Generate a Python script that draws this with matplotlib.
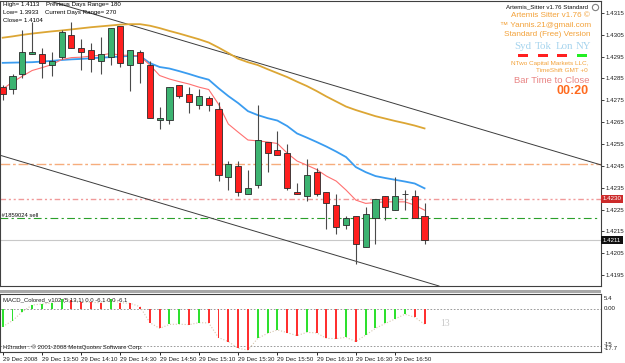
import matplotlib
matplotlib.use('Agg')
import matplotlib.pyplot as plt
from matplotlib.lines import Line2D
from matplotlib.patches import Rectangle
import matplotlib.transforms as mtransforms

plt.rcParams['font.family'] = ['Liberation Sans', 'DejaVu Sans']

# ---------------- data ----------------
opens = [1.4281, 1.4280, 1.4287, 1.4296, 1.4296, 1.4291, 1.4295, 1.4305, 1.4299, 1.4298,
         1.4293, 1.4295, 1.4309, 1.4291, 1.4297, 1.4291, 1.4266, 1.4266, 1.4282, 1.4278,
         1.4273, 1.4276, 1.4271, 1.4240, 1.4245, 1.4232, 1.4236, 1.4256, 1.4252, 1.4251,
         1.4233, 1.4231, 1.4242, 1.4233, 1.4227, 1.4218, 1.4222, 1.4208, 1.4221, 1.4231,
         1.4225, 1.4232, 1.4231, 1.4222]
highs = [1.4282, 1.4287, 1.4307, 1.4311, 1.4299, 1.4297, 1.4307, 1.4311, 1.4303, 1.4301,
         1.4304, 1.4308, 1.4309, 1.4298, 1.4298, 1.4293, 1.4272, 1.4281, 1.4282, 1.4281,
         1.4280, 1.4277, 1.4274, 1.4247, 1.4247, 1.4243, 1.4273, 1.4256, 1.4261, 1.4255,
         1.4237, 1.4248, 1.4244, 1.4233, 1.4232, 1.4222, 1.4222, 1.4226, 1.4230, 1.4231,
         1.4240, 1.4234, 1.4234, 1.4228]
lows = [1.4275, 1.4278, 1.4285, 1.4296, 1.4285, 1.4286, 1.4294, 1.4299, 1.4289, 1.4288,
        1.4287, 1.4291, 1.4290, 1.4279, 1.4283, 1.4267, 1.4262, 1.4264, 1.4276, 1.4269,
        1.4271, 1.4270, 1.4238, 1.4234, 1.4231, 1.4232, 1.4235, 1.4242, 1.4250, 1.4234,
        1.4232, 1.4229, 1.4231, 1.4216, 1.4214, 1.4216, 1.4200, 1.4208, 1.4209, 1.4220,
        1.4225, 1.4225, 1.4221, 1.4209]
closes = [1.4278, 1.4286, 1.4297, 1.4297, 1.4292, 1.4293, 1.4306, 1.4299, 1.4297, 1.4294,
          1.4296, 1.4308, 1.4292, 1.4298, 1.4292, 1.4267, 1.4267, 1.4281, 1.4277, 1.4274,
          1.4277, 1.4273, 1.4241, 1.4246, 1.4233, 1.4235, 1.4257, 1.4251, 1.4250, 1.4235,
          1.4232, 1.4241, 1.4232, 1.4228, 1.4217, 1.4221, 1.4209, 1.4223, 1.4230, 1.4226,
          1.4231, 1.4232, 1.4221, 1.4211]

ma_fast = [1.42801, 1.42833, 1.42860, 1.42886, 1.42899, 1.42913, 1.42936, 1.42945, 1.42947, 1.42952,
           1.42956, 1.42964, 1.42956, 1.42956, 1.42952, 1.42911, 1.42863, 1.42847, 1.42835, 1.42824,
           1.42810, 1.42799, 1.42732, 1.42641, 1.42604, 1.42568, 1.42564, 1.42559, 1.42552, 1.42508,
           1.42472, 1.42453, 1.42433, 1.42403, 1.42380, 1.42339, 1.42293, 1.42278, 1.42282, 1.42285,
           1.42285, 1.42285, 1.42270, 1.42247]
ma_mid = [1.42921, 1.42922, 1.42923, 1.42924, 1.42927, 1.42930, 1.42934, 1.42937, 1.42939, 1.42942,
          1.42945, 1.42947, 1.42950, 1.42953, 1.42952, 1.42920, 1.42902, 1.42895, 1.42883, 1.42870,
          1.42856, 1.42844, 1.42805, 1.42769, 1.42737, 1.42700, 1.42682, 1.42668, 1.42657, 1.42632,
          1.42598, 1.42579, 1.42559, 1.42538, 1.42515, 1.42490, 1.42444, 1.42421, 1.42403, 1.42394,
          1.42386, 1.42378, 1.42369, 1.42347]
ma_slow = [1.43036, 1.43042, 1.43049, 1.43055, 1.43060, 1.43065, 1.43069, 1.43074, 1.43079, 1.43084,
           1.43088, 1.43092, 1.43096, 1.43098, 1.43098, 1.43091, 1.43080, 1.43067, 1.43055, 1.43042,
           1.43029, 1.43014, 1.42991, 1.42966, 1.42940, 1.42924, 1.42911, 1.42892, 1.42874, 1.42856,
           1.42835, 1.42815, 1.42792, 1.42767, 1.42744, 1.42721, 1.42705, 1.42691, 1.42677, 1.42666,
           1.42655, 1.42645, 1.42634, 1.42621]

macd = [-7.1, -4.7, -1.1, 1.6, 2.0, 2.4, 3.9, 3.6, 2.9, 2.7,
        2.5, 3.9, 2.5, 2.3, 0.9, -5.5, -7.8, -6.2, -6.1, -6.3,
        -5.5, -5.6, -11.5, -13.1, -15.8, -16.5, -11.8, -9.8, -8.4, -9.5,
        -10.7, -9.4, -9.6, -11.8, -11.9, -11.4, -13.1, -10.5, -7.8, -5.8,
        -4.0, -2.1, -3.3, -6.1]
macd_up = [1, 1, 1, 1, 1, 1, 1, 0, 0, 0,
           0, 1, 0, 0, 0, 0, 0, 1, 1, 0,
           1, 0, 0, 0, 0, 0, 1, 1, 1, 0,
           0, 1, 0, 0, 0, 1, 0, 1, 1, 1,
           1, 1, 0, 0]

upper_trend = [(14.0, 1.43081), (61.06, 1.42453)]
lower_trend = [(-0.1, 1.42496), (44.4, 1.41901)]
level_orange = 1.4246
level_red = 1.4230
order_price = 1.4221
bid_price = 1.4211

price_ticks = [1.4195, 1.4205, 1.4215, 1.4225, 1.4235, 1.4245, 1.4255,
               1.4265, 1.4275, 1.4285, 1.4295, 1.4305, 1.4315]
time_ticks = [0, 4, 8, 12, 16, 20, 24, 28, 32, 36, 40]
time_labels = ["29 Dec 2008", "29 Dec 13:50", "29 Dec 14:10", "29 Dec 14:30",
               "29 Dec 14:50", "29 Dec 15:10", "29 Dec 15:30", "29 Dec 15:50",
               "29 Dec 16:10", "29 Dec 16:30", "29 Dec 16:50"]

# ---------------- figure ----------------
W, H = 625, 363
fig = plt.figure(figsize=(W / 100, H / 100), dpi=100, facecolor='white')


def fx(px):
    return px / W


def fy(py):
    return 1 - py / H


ax = fig.add_axes([0, fy(286), fx(601), (286 - 1) / H])
ax2 = fig.add_axes([0, fy(351.5), fx(601), (351.5 - 294) / H])

for a in (ax, ax2):
    a.set_facecolor('white')
    for s in a.spines.values():
        s.set_color('#404040')
        s.set_linewidth(0.8)

x = list(range(len(opens)))
ax.set_xlim(-0.275, 60.99)
ax.set_ylim(1.4190, 1.43204)
ax2.set_xlim(-0.275, 60.99)
ax2.set_ylim(-17.09, 6.03)

# levels
ax.axhline(level_orange, color='#f6ad7c', lw=1.0, ls=(0, (7, 2, 2, 2)), zorder=1)
ax.axhline(level_red, color='#f09a9a', lw=1.0, ls=(0, (4, 2, 1.5, 2, 1.5, 2)), zorder=1)
ax.axhline(order_price, xmax=597 / 601, color='#2aa02a', lw=0.8, ls=(0, (7, 3, 2, 3)), zorder=1)
ax.axhline(bid_price, color='#c8c8c8', lw=0.8, zorder=1)

# trend lines
ax.axline(upper_trend[0], upper_trend[1], color='#3c3c3c', lw=0.7, zorder=2)
ax.axline(lower_trend[0], lower_trend[1], color='#3c3c3c', lw=0.7, zorder=2)

# moving averages
ax.plot(x, ma_slow, color='#dca634', lw=1.3, zorder=2)
ax.plot(x, ma_mid, color='#3a9cf0', lw=1.3, zorder=2)
ax.plot(x, ma_fast, color='#ff7070', lw=0.8, zorder=2)

# candles
bodies_bottom = [min(o, c) for o, c in zip(opens, closes)]
bodies_h = [abs(c - o) for o, c in zip(opens, closes)]
body_colors = ['#3cb371' if c > o else ('#ff1e1e' if c < o else '#606060')
               for o, c in zip(opens, closes)]
ax.vlines(x, lows, highs, color='#4a4a4a', lw=0.8, zorder=3)
ax.bar(x, bodies_h, bottom=bodies_bottom, width=0.62, color=body_colors,
       edgecolor='#2a2a2a', linewidth=0.6, zorder=4)

# y ticks on the right
ax.yaxis.tick_right()
ax.set_yticks(price_ticks)
ax.set_yticklabels([f'{v:.4f}' for v in price_ticks])
ax.tick_params(axis='y', labelsize=4.4, length=2, width=0.6, pad=1.5, colors='#202020')
ax.set_xticks([])

blend = mtransforms.blended_transform_factory(ax.transAxes, ax.transData)
ax.text(1.003, level_red, f'{level_red:.4f}', transform=blend, ha='left', va='center',
        fontsize=4.4, color='white', clip_on=False,
        bbox=dict(boxstyle='square,pad=0.25', fc='#cc2b2b', ec='none'))
ax.text(1.003, bid_price, f'{bid_price:.4f}', transform=blend, ha='left', va='center',
        fontsize=4.4, color='white', clip_on=False,
        bbox=dict(boxstyle='square,pad=0.25', fc='#101010', ec='none'))
ax.text(0.0, order_price, ' #1859024 sell', transform=blend, ha='left', va='bottom',
        fontsize=4.2, color='#101010')

# ---------------- MACD ----------------
mcolors = ['#2ee02e' if u else '#ff3030' for u in macd_up]
ax2.bar(x, macd, width=0.2, color=mcolors, zorder=3)
ax2.plot(x, macd, ls=':', color='#d6c6ae', lw=0.8, zorder=2)
ax2.axhline(0, ls=(0, (2, 2)), color='#8a8a8a', lw=0.6, zorder=1)
ax2.axhline(-15, ls=(0, (2, 2)), color='#8a8a8a', lw=0.6, zorder=1)
ax2.set_yticks([])
ax2.set_xticks(time_ticks)
ax2.set_xticklabels(time_labels, ha='left', fontsize=4.4, color='#202020')
ax2.tick_params(axis='x', length=2, width=0.6, pad=2)

ax2.text(0.005, 0.88, 'MACD_Colored_v102 (5,13,1) 0.0 -6.1 0.0 -6.1', transform=ax2.transAxes,
         fontsize=4.3, va='center', ha='left', color='#202020')
ax2.text(0.005, 0.07, 'H2trader : © 2001-2008 MetaQuotes Software Corp.', transform=ax2.transAxes,
         fontsize=4.3, va='center', ha='left', color='#202020')
ax2.text(44.6, -5.8, '13', fontsize=7, color='#c8c8c8', family=['Liberation Serif', 'DejaVu Serif'],
         va='center', ha='left')

# MACD right labels
fig.text(fx(604), fy(298), '5.4', fontsize=4.4, va='center', ha='left', color='#202020')
fig.text(fx(604), fy(308.5), '0.00', fontsize=4.4, va='center', ha='left', color='#202020')
fig.text(fx(604), fy(344), '-15', fontsize=4.4, va='center', ha='left', color='#202020')
fig.text(fx(604), fy(348.5), '-17.7', fontsize=4.4, va='center', ha='left', color='#202020')

# panel separator
fig.add_artist(Rectangle((0, fy(292.5)), fx(601), 3 / H, transform=fig.transFigure,
                         fc='#a8a8a8', ec='none'))

# ---------------- overlay texts ----------------
fig.text(fx(3), fy(4.5), 'High= 1.4113', fontsize=4.4, va='center', ha='left')
fig.text(fx(3), fy(12.3), 'Low= 1.3933', fontsize=4.4, va='center', ha='left')
fig.text(fx(3), fy(20), 'Close= 1.4104', fontsize=4.4, va='center', ha='left')
fig.text(fx(46.5), fy(4.5), 'Previous Days Range= 180', fontsize=4.4, va='center', ha='left')
fig.text(fx(45), fy(12.3), 'Current Days Range= 270', fontsize=4.4, va='center', ha='left')

orange = '#f3a23a'
fig.text(fx(588), fy(6.5), 'Artemis_Sitter v1.76 Standard', fontsize=4.4, va='center', ha='right',
         color='#101010')
fig.add_artist(Line2D([fx(594.5)], [fy(6.5)], marker='o', ms=4.5, mfc='white', mec='#808080',
                      mew=0.8, transform=fig.transFigure))
fig.text(fx(590), fy(15.5), 'Artemis Sitter v1.76 ©', fontsize=5.9, va='center', ha='right', color=orange)
fig.text(fx(591), fy(25), '™ Yannis.21@gmail.com', fontsize=5.9, va='center', ha='right', color=orange)
fig.text(fx(591), fy(35), 'Standard (Free) Version', fontsize=5.9, va='center', ha='right', color=orange)

serif = ['Liberation Serif', 'DejaVu Serif']
for lbl, cx in zip(['Syd', 'Tok', 'Lon', 'NY'], [523, 543.5, 564, 583]):
    fig.text(fx(cx), fy(46.5), lbl, fontsize=7.8, va='center', ha='center', color='#a6d4ee', family=serif)
for cx, col in zip([522.5, 542.5, 562, 582], ['#ff2020', '#ff2020', '#ff2020', '#22ee22']):
    fig.add_artist(Rectangle((fx(cx - 5), fy(57.3)), fx(10), 3 / H, transform=fig.transFigure,
                             fc=col, ec='none'))
fig.text(fx(588), fy(63), 'NTwo Capital Markets LLC,', fontsize=4.6, va='center', ha='right', color=orange)
fig.text(fx(588), fy(70), 'TimeShift GMT +0', fontsize=4.6, va='center', ha='right', color=orange)
fig.text(fx(589), fy(80.5), 'Bar Time to Close', fontsize=6.8, va='center', ha='right', color='#e98585')
fig.text(fx(589), fy(91.5), '00:20', fontsize=9, va='center', ha='right', color='#ff6a1e',
         fontweight='bold')

fig.savefig('out.png', dpi=100, facecolor='white')
